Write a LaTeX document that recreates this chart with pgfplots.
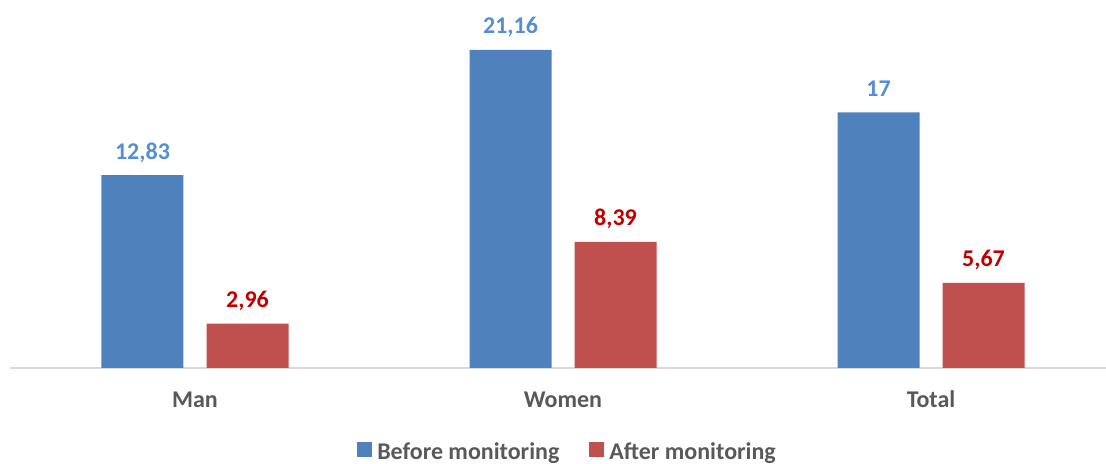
\documentclass[border=0pt]{standalone}
\usepackage{pgfplots}
\pgfplotsset{compat=1.18}
\usepackage{fontspec}
\setmainfont{Carlito}
\definecolor{barblue}{HTML}{4F81BD}
\definecolor{barred}{HTML}{C0504D}
\definecolor{lblblue}{HTML}{558ED5}
\definecolor{lblred}{HTML}{C00000}
\definecolor{textgray}{HTML}{595959}
\definecolor{linegray}{HTML}{D9D9D9}
\newcommand\lblfont{\fontsize{24}{29}\selectfont\bfseries}
\begin{document}
\begin{tikzpicture}
\begin{axis}[
  name=ax,
  scale only axis, width=1096pt, height=368pt,
  xmin=-0.5027, xmax=2.4755, ymin=0, ymax=24.48,
  axis x line=bottom, hide y axis,
  x axis line style={draw=linegray, line width=1.5pt, -},
  xtick={0,1,2}, xticklabels={Man,Women,Total},
  major tick length=0pt,
  xticklabel style={font=\lblfont, text=textgray, anchor=base, yshift=-40pt},
  ybar, bar width=82pt,
  nodes near coords,
  every node near coord/.append style={font=\lblfont, anchor=base, yshift=16pt},
  /pgf/number format/.cd, use comma, fixed, precision=2, assume math mode=true,
  /pgfplots/.cd,
  legend columns=2,
  legend style={at={(0.5087,-0.229)}, anchor=center, draw=none, fill=none,
    font=\lblfont, text=textgray,
    /tikz/every even column/.append style={column sep=28pt}},
  legend image code/.code={\fill[#1] (0pt,-5pt) rectangle (15pt,10pt); \path (18pt,0pt);},
]
\addplot[fill=barblue, draw=none, bar shift=-52.5pt, nodes near coords style={text=lblblue}]
  coordinates {(0,12.83) (1,21.16) (2,17)};
\addlegendentry{Before monitoring}
\addplot[fill=barred, draw=none, bar shift=52.5pt, nodes near coords style={text=lblred}]
  coordinates {(0,2.96) (1,8.39) (2,5.67)};
\addlegendentry{After monitoring}
\end{axis}
\pgfresetboundingbox
\path ([shift={(-10pt,-96pt)}]ax.south west) rectangle (ax.north east);
\end{tikzpicture}
\end{document}
